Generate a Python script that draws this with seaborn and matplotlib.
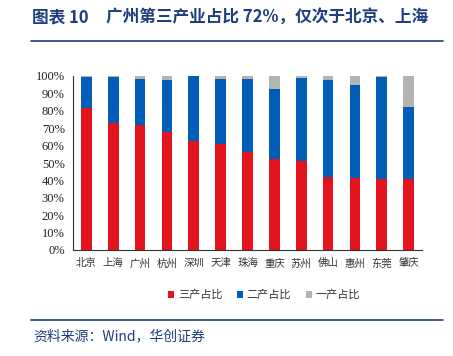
import numpy as np
import pandas as pd
import matplotlib
matplotlib.use("Agg")
import matplotlib.pyplot as plt
import seaborn as sns
from matplotlib.patches import Patch
from matplotlib.lines import Line2D

cities = ["北京", "上海", "广州", "杭州", "深圳", "天津", "珠海", "重庆", "苏州", "佛山", "惠州", "东莞", "肇庆"]
tertiary = [81.6, 73.0, 71.6, 67.6, 62.6, 61.1, 56.6, 52.5, 51.0, 42.0, 41.6, 41.0, 40.8]
secondary = [18.1, 26.7, 26.9, 30.3, 37.2, 37.2, 41.7, 40.0, 48.0, 55.9, 53.4, 58.4, 41.4]
primary = [0.3, 0.3, 1.5, 2.1, 0.2, 1.7, 1.7, 7.5, 1.0, 2.1, 5.0, 0.6, 17.8]
legend_labels = ["三产占比", "二产占比", "一产占比"]
ytick_values = [0, 10, 20, 30, 40, 50, 60, 70, 80, 90, 100]

RED = "#E3141E"
BLUE = "#005EB8"
GRAY = "#B3B3B3"
NAVY = "#1F3E7C"

sns.set_style("white")
plt.rcParams["font.family"] = ["Noto Sans CJK SC", "DejaVu Sans"]

df = pd.DataFrame({"city": cities, "t": tertiary, "s": secondary, "p": primary})
df["ts"] = df["t"] + df["s"]
df["all"] = df["ts"] + df["p"]

fig = plt.figure(figsize=(4.53, 3.56), dpi=100)
ax = fig.add_axes([73 / 453, 1 - 250 / 356, (422 - 73) / 453, (250 - 76) / 356])

for col, color in [("all", GRAY), ("ts", BLUE), ("t", RED)]:
    sns.barplot(data=df, x="city", y=col, color=color, width=0.4, ax=ax,
                saturation=1, edgecolor="none", linewidth=0)

ax.set_xlim(-0.5, len(cities) - 0.5)
ax.set_ylim(0, 100)
ax.set_xlabel("")
ax.set_ylabel("")
ax.set_yticks(ytick_values)
ax.set_yticklabels([f"{v}%" for v in ytick_values], family="Liberation Serif", fontsize=9, color="#222222")
ax.set_xticks(range(len(cities)))
ax.set_xticklabels(cities, fontsize=7.5, color="#333333")
ax.set_xticks(np.arange(-0.5, len(cities), 1.0), minor=True)
ax.tick_params(axis="x", which="major", length=0, pad=6)
ax.tick_params(axis="x", which="minor", length=4, width=0.8, direction="out", color="#333333")
ax.tick_params(axis="y", length=4, width=0.8, direction="out", color="#333333", pad=2)
for sp in ["top", "right"]:
    ax.spines[sp].set_visible(False)
for sp in ["left", "bottom"]:
    ax.spines[sp].set_color("#333333")
    ax.spines[sp].set_linewidth(0.8)
ax.grid(False)

handles = [Patch(facecolor=c, edgecolor="none") for c in (RED, BLUE, GRAY)]
fig.legend(handles, legend_labels, loc="center", bbox_to_anchor=(264 / 453, 1 - 295 / 356),
           ncol=3, frameon=False, fontsize=8, handlelength=0.6, handleheight=0.6,
           handletextpad=0.3, columnspacing=1.3, labelcolor="#333333")

fig.text(32 / 453, 1 - 18 / 356, "图表 10", fontsize=12, fontweight="bold",
         color=NAVY, va="center", ha="left")
fig.text(106 / 453, 1 - 18 / 356, "广州第三产业占比 72%，仅次于北京、上海",
         fontsize=12, fontweight="bold", color=NAVY, va="center", ha="left")
fig.add_artist(Line2D([31 / 453, 443 / 453], [1 - 41 / 356] * 2, color=NAVY, linewidth=1.2))
fig.add_artist(Line2D([31 / 453, 443 / 453], [1 - 320 / 356] * 2, color=NAVY, linewidth=1.2))
fig.text(33 / 453, 1 - 336 / 356, "资料来源：Wind，华创证券", fontsize=10, style="italic",
         color=NAVY, va="center", ha="left")

fig.savefig("out.png", dpi=100)
